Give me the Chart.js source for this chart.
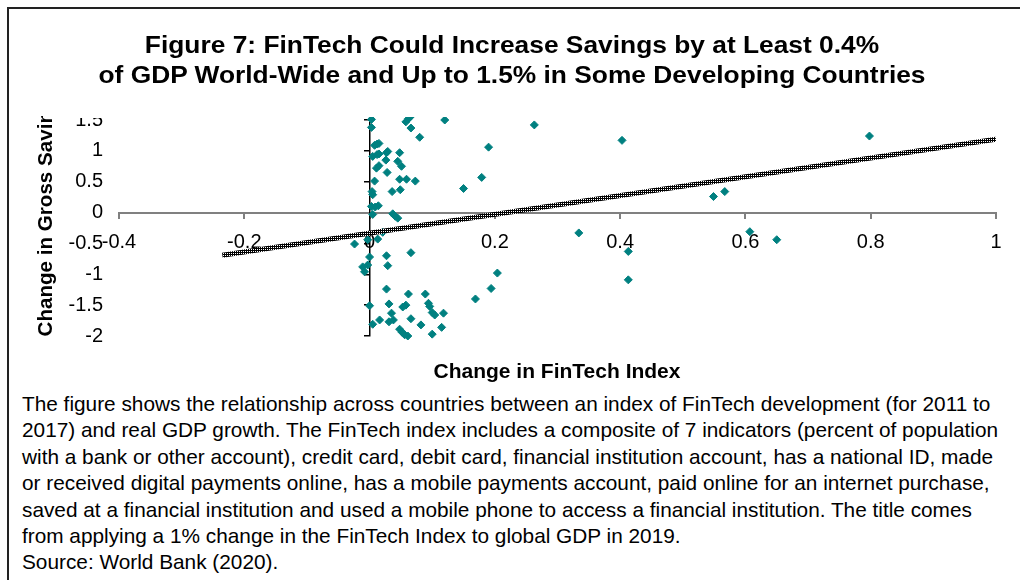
<!DOCTYPE html>
<html>
<head>
<meta charset="utf-8">
<script src="https://cdn.jsdelivr.net/npm/chart.js@4/dist/chart.umd.min.js"></script>
<style>
  body { margin: 0; background: #fff; }
  #page { position: relative; width: 1020px; height: 580px; overflow: hidden; font-family: "Liberation Sans", Arial, sans-serif; color: #000; }
  #frame { position: absolute; left: 7px; top: 7px; right: -5px; bottom: -5px; border-left: 2px solid #222; border-top: 2px solid #222; }
  #wrap { position: absolute; left: 0; top: 0; width: 1020px; height: 390px; }
  #title { position: absolute; left: 12px; top: 30px; width: 1000px; text-align: center; font-weight: bold; font-size: 24.5px; line-height: 29.5px; transform: scaleX(1.075); }
  #ytitle { position: absolute; left: 32px; top: 116px; width: 26px; height: 220px; overflow: hidden; }
  #ytitle span { position: absolute; left: 0; bottom: 0; writing-mode: vertical-rl; transform: rotate(180deg); white-space: nowrap; font-weight: bold; font-size: 20.6px; line-height: 26px; }
  #xtitle { position: absolute; left: 357px; top: 359px; width: 400px; text-align: center; font-weight: bold; font-size: 21px; line-height: 24px; }
  #caption { position: absolute; left: 22px; top: 391px; font-size: 20.8px; line-height: 26.4px; white-space: nowrap; }
</style>
</head>
<body>
<div id="page">
  <div id="frame"></div>
  <div id="wrap"><canvas id="canvas"></canvas></div>
  <div id="title">Figure 7: FinTech Could Increase Savings by at Least 0.4%<br>of GDP World-Wide and Up to 1.5% in Some Developing Countries</div>
  <div id="ytitle"><span>Change in Gross Savings</span></div>
  <div id="xtitle">Change in FinTech Index</div>
  <div id="caption">The figure shows the relationship across countries between an index of FinTech development (for 2011 to<br>2017) and real GDP growth. The FinTech index includes a composite of 7 indicators (percent of population<br>with a bank or other account), credit card, debit card, financial institution account, has a national ID, made<br>or received digital payments online, has a mobile payments account, paid online for an internet purchase,<br>saved at a financial institution and used a mobile phone to access a financial institution. The title comes<br>from applying a 1% change in the FinTech Index to global GDP in 2019.<br>Source: World Bank (2020).</div>
</div>
<script>
// change in fintech index (x) and change in gross savings (y), one pair per country
const fintech = [
  0.003, 0.003, 0.058, 0.062, 0.065, 0.066, 0.120, 0.080, 0.263, 0.403, 0.190,
  0.008, 0.012, 0.015, 0.005, 0.012, 0.015, 0.027, 0.029, 0.026, 0.048, 0.045,
  0.051, 0.011, 0.015, 0.028, 0.008, 0.048, 0.059, 0.073, 0.004, 0.005, 0.036,
  0.049, 0.150, 0.179, 0.003, 0.009, 0.014, 0.005, 0.037, 0.041, 0.045, 0.021,
  0.334, -0.024, -0.003, 0.013, 0.413, 0.066, 0.000, 0.027, 0.029, -0.011, -0.003,
  -0.008, 0.204, 0.194, 0.413, 0.169, 0.027, 0.062, 0.089, 0.000, 0.031, 0.053,
  0.058, 0.094, 0.096, 0.035, 0.100, 0.104, 0.118, 0.016, 0.005, 0.031, 0.038,
  0.066, 0.082, 0.115, 0.048, 0.052, 0.056, 0.061, 0.100, 0.798, 0.549, 0.567,
  0.607, 0.650
]
const savings = [
  1.51, 1.38, 1.47, 1.52, 1.55, 1.37, 1.50, 1.22, 1.42, 1.17, 1.06,
  1.09, 1.11, 1.12, 0.91, 0.94, 0.95, 0.97, 0.99, 0.85, 0.97, 0.83,
  0.75, 0.72, 0.76, 0.65, 0.51, 0.54, 0.54, 0.51, 0.34, 0.29, 0.34,
  0.37, 0.39, 0.57, 0.10, 0.09, 0.11, -0.03, -0.02, -0.06, -0.09, -0.32,
  -0.33, -0.51, -0.44, -0.43, -0.63, -0.65, -0.72, -0.70, -0.86, -0.88, -0.85,
  -0.96, -0.98, -1.23, -1.09, -1.40, -1.24, -1.32, -1.32, -1.51, -1.48, -1.53,
  -1.50, -1.47, -1.52, -1.63, -1.62, -1.66, -1.63, -1.74, -1.81, -1.77, -1.74,
  -1.72, -1.82, -1.86, -1.89, -1.94, -1.98, -2.00, -1.97, 1.24, 0.26, 0.34,
  -0.31, -0.44
]

// ends of the linear trend line
const trendX = [-0.235, 1.0]
const trendY = [-0.69, 1.19]

const xTicks = [-0.4, -0.2, 0, 0.2, 0.4, 0.6, 0.8, 1]
const yTicks = [-2, -1.5, -1, -0.5, 0, 0.5, 1, 1.5]

const points = fintech.map((x, i) => ({ x: x, y: savings[i] }))
const trend = trendX.map((x, i) => ({ x: x, y: trendY[i] }))

// excel-ish hatched pattern for the trend line
const pc = document.createElement('canvas')
pc.width = 2
pc.height = 2
const pctx = pc.getContext('2d')
pctx.fillStyle = '#000'
pctx.fillRect(0, 0, 2, 2)
pctx.fillStyle = '#fff'
pctx.fillRect(1, 1, 1, 1)
const hatch = pctx.createPattern(pc, 'repeat')

// hide the top half of the "1.5" label, as in the original
const clipTop = {
  id: 'clipTop',
  beforeDraw(chart) {
    const c = chart.ctx
    c.save()
    c.beginPath()
    c.rect(0, 0, chart.width, chart.height)
    c.rect(55, 90, 62, 28)
    c.clip('evenodd')
  },
  afterDraw(chart) {
    chart.ctx.restore()
  }
}

const font = { family: '"Liberation Sans", Arial, sans-serif', size: 20 }
const plain = (v) => String(Math.round(v * 10) / 10)

const ctx = document.getElementById('canvas').getContext('2d')
const chart = new Chart(ctx, {
  type: 'scatter',
  data: {
    datasets: [
      {
        label: 'Trend',
        data: trend,
        showLine: true,
        borderColor: hatch,
        borderWidth: 5,
        pointRadius: 0,
        order: 0
      },
      {
        label: 'Countries',
        data: points,
        pointStyle: 'rectRot',
        pointRadius: 4,
        pointBorderWidth: 1,
        backgroundColor: '#008080',
        borderColor: '#008080',
        clip: { left: 6, top: 3, right: 6, bottom: 6 },
        order: 1
      }
    ]
  },
  options: {
    responsive: true,
    maintainAspectRatio: false,
    animation: false,
    layout: { padding: { top: 120, right: 24, bottom: 54, left: 0 } },
    plugins: {
      legend: { display: false },
      tooltip: { enabled: false }
    },
    scales: {
      x: {
        type: 'linear',
        position: { y: 0 },
        min: -0.4,
        max: 1,
        afterBuildTicks: (s) => { s.ticks = xTicks.map(v => ({ value: v })) },
        ticks: { font: font, color: '#000', padding: 13, maxRotation: 0, callback: plain },
        grid: { drawOnChartArea: false, drawTicks: true, tickLength: 5, color: '#808080', lineWidth: 2 },
        border: { display: true, color: '#808080', width: 2 }
      },
      y: {
        type: 'linear',
        position: 'left',
        min: -2,
        max: 1.5,
        afterBuildTicks: (s) => { s.ticks = yTicks.map(v => ({ value: v })) },
        afterFit: (s) => { s.width = 119 },
        ticks: { font: font, color: '#000', padding: 16, callback: plain },
        grid: { display: false, drawTicks: false },
        border: { display: false }
      },
      y2: {
        type: 'linear',
        axis: 'y',
        position: { x: 0 },
        min: -2,
        max: 1.5,
        afterBuildTicks: (s) => { s.ticks = yTicks.map(v => ({ value: v })) },
        ticks: { display: false },
        grid: { drawOnChartArea: false, drawTicks: true, tickLength: 5, color: '#000', lineWidth: 1.5 },
        border: { display: true, color: '#000', width: 1.5 }
      }
    }
  },
  plugins: [clipTop]
})
</script>
</body>
</html>
